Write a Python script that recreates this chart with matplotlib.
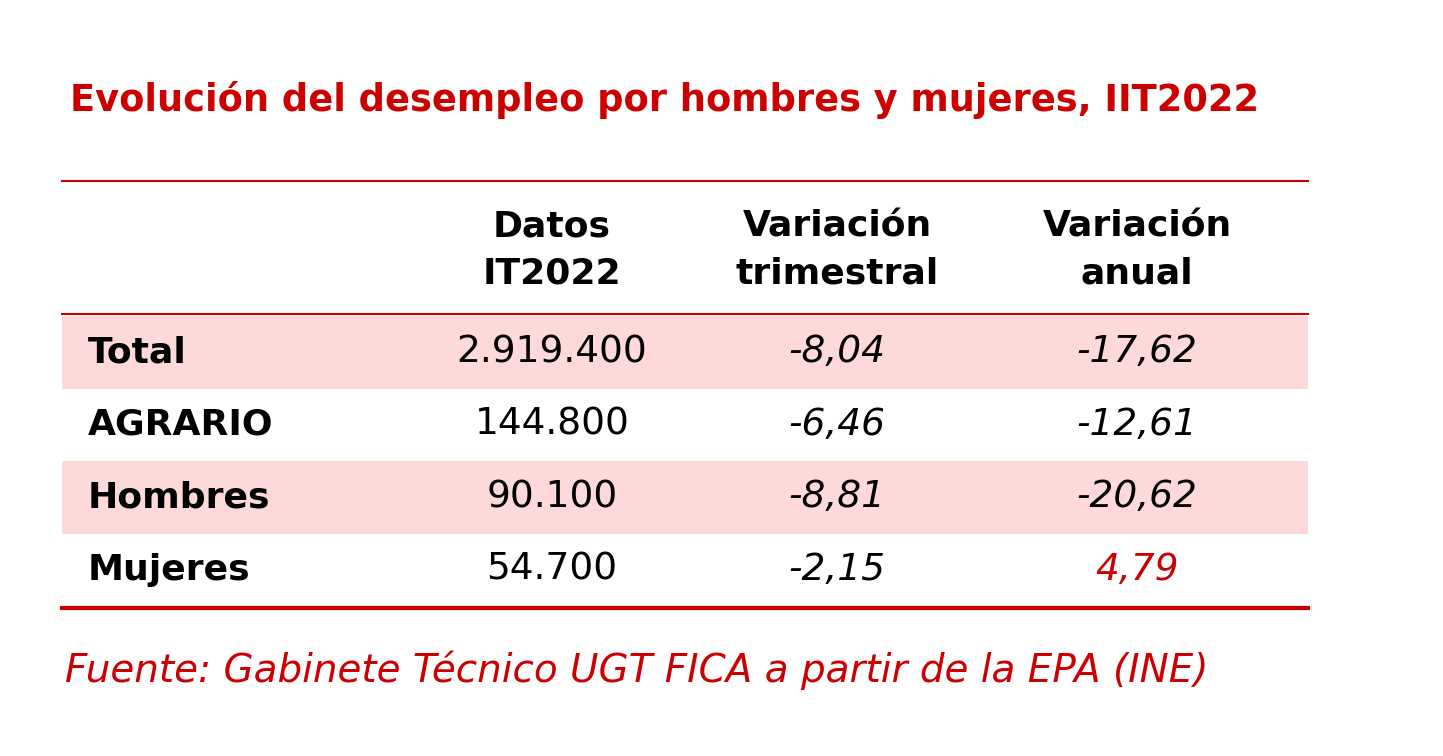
import matplotlib
matplotlib.use("Agg")
import matplotlib.pyplot as plt
from matplotlib.patches import Rectangle

title = "Evolución del desempleo por hombres y mujeres, IIT2022"
source = "Fuente: Gabinete Técnico UGT FICA a partir de la EPA (INE)"
headers = ["Datos\nIT2022", "Variación\ntrimestral", "Variación\nanual"]
rows = ["Total", "AGRARIO", "Hombres", "Mujeres"]
datos = ["2.919.400", "144.800", "90.100", "54.700"]
var_trim = [-8.04, -6.46, -8.81, -2.15]
var_anual = [-17.62, -12.61, -20.62, 4.79]

RED = "#CC0000"
PINK = "#FDD9D9"
plt.rcParams["font.family"] = ["DejaVu Sans"]

fig = plt.figure(figsize=(14.43, 7.56), dpi=100)
ax = fig.add_axes([0, 0, 1, 1])
ax.set_xlim(0, 1443)
ax.set_ylim(756, 0)
ax.axis("off")

def fmt(v):
    return f"{v:.2f}".replace(".", ",")

ax.text(70, 100, title, color=RED, fontsize=26.5, fontweight="bold", va="center")

x0, x1 = 62, 1308
col_x = [552, 837, 1137]
row_top, row_h = 316, 72.5

for i in range(len(rows)):
    if i % 2 == 0:
        ax.add_patch(Rectangle((x0, row_top + i * row_h), x1 - x0, row_h,
                               color=PINK, lw=0, zorder=0))

ax.plot([x0, x1], [181, 181], color=RED, lw=1.5)
ax.plot([x0, x1], [314, 314], color=RED, lw=1.5)
ax.plot([x0, x1], [608, 608], color=RED, lw=3)

for x, h in zip(col_x, headers):
    ax.text(x, 250, h, ha="center", va="center", fontsize=26,
            fontweight="bold", linespacing=1.45)

for i, name in enumerate(rows):
    y = row_top + (i + 0.5) * row_h
    ax.text(88, y, name, va="center", fontsize=26, fontweight="bold")
    ax.text(col_x[0], y, datos[i], ha="center", va="center", fontsize=27)
    ax.text(col_x[1], y, fmt(var_trim[i]), ha="center", va="center",
            fontsize=27, style="italic")
    ax.text(col_x[2], y, fmt(var_anual[i]), ha="center", va="center",
            fontsize=27, style="italic",
            color=RED if var_anual[i] > 0 else "black")

ax.text(65, 670, source, color=RED, fontsize=28, style="italic", va="center")

fig.savefig("out.png", dpi=100)
